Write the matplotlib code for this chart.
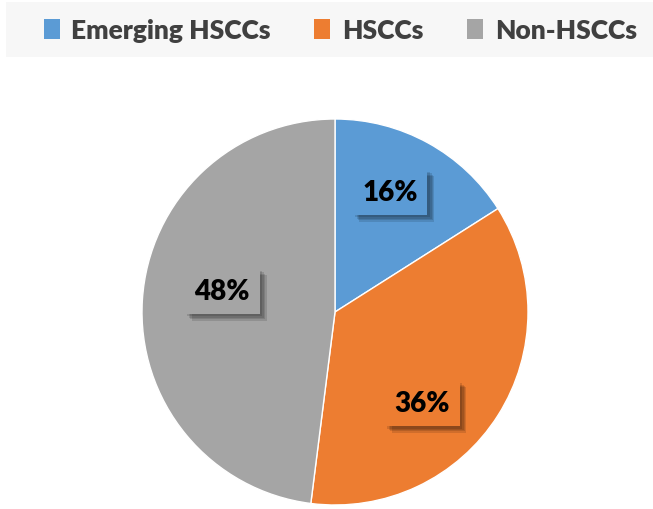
import matplotlib.pyplot as plt
from matplotlib.patches import Rectangle
import matplotlib.patheffects as pe

plt.rcParams['font.family'] = ['Lato', 'DejaVu Sans']

# data
labels = ['Emerging HSCCs', 'HSCCs', 'Non-HSCCs']
shares = [16, 36, 48]
colors = ['#5B9BD5', '#ED7D31', '#A5A5A5']
# where the data labels sit (pie radius = 1)
label_xy = [(0.285, 0.622), (0.451, -0.472), (-0.585, 0.109)]

fig = plt.figure(figsize=(6.53, 5.10), dpi=100)

# legend background band
fig.patches.append(Rectangle((6 / 653, 1 - 58 / 510), 647 / 653, 55 / 510,
                             transform=fig.transFigure, facecolor='#F7F7F7',
                             edgecolor='none', zorder=0))

ax = fig.add_axes([142 / 653, 4 / 510, 386 / 653, 386 / 510])
wedges, texts, autotexts = ax.pie(
    shares, colors=colors, startangle=90, counterclock=False,
    autopct='%1.0f%%', pctdistance=0.64,
    wedgeprops=dict(edgecolor='white', linewidth=1))
ax.set_xlim(-1, 1)
ax.set_ylim(-1, 1)
ax.set_aspect('equal')

shadow = [pe.SimplePatchShadow(offset=(o, -o), shadow_rgbFace='black', alpha=0.12)
          for o in (5, 4, 3, 2)]
for t, c, xy in zip(autotexts, colors, label_xy):
    t.set_position(xy)
    t.set_fontsize(20)
    t.set_fontweight('heavy')
    t.set_color('black')
    t.set_bbox(dict(boxstyle='square,pad=0.35', facecolor=c, edgecolor='none'))
    t.get_bbox_patch().set_path_effects(shadow + [pe.Normal()])

leg = fig.legend(wedges, labels, loc='center', bbox_to_anchor=(0.521, 1 - 31 / 510),
                 ncol=3, frameon=False, handlelength=0.6, handleheight=0.8,
                 handletextpad=0.45, columnspacing=1.65,
                 prop=dict(size=19, weight='heavy'))
for t in leg.get_texts():
    t.set_color('#404040')
for h in leg.legend_handles:
    h.set_edgecolor('none')

fig.savefig('out.png', dpi=100)
